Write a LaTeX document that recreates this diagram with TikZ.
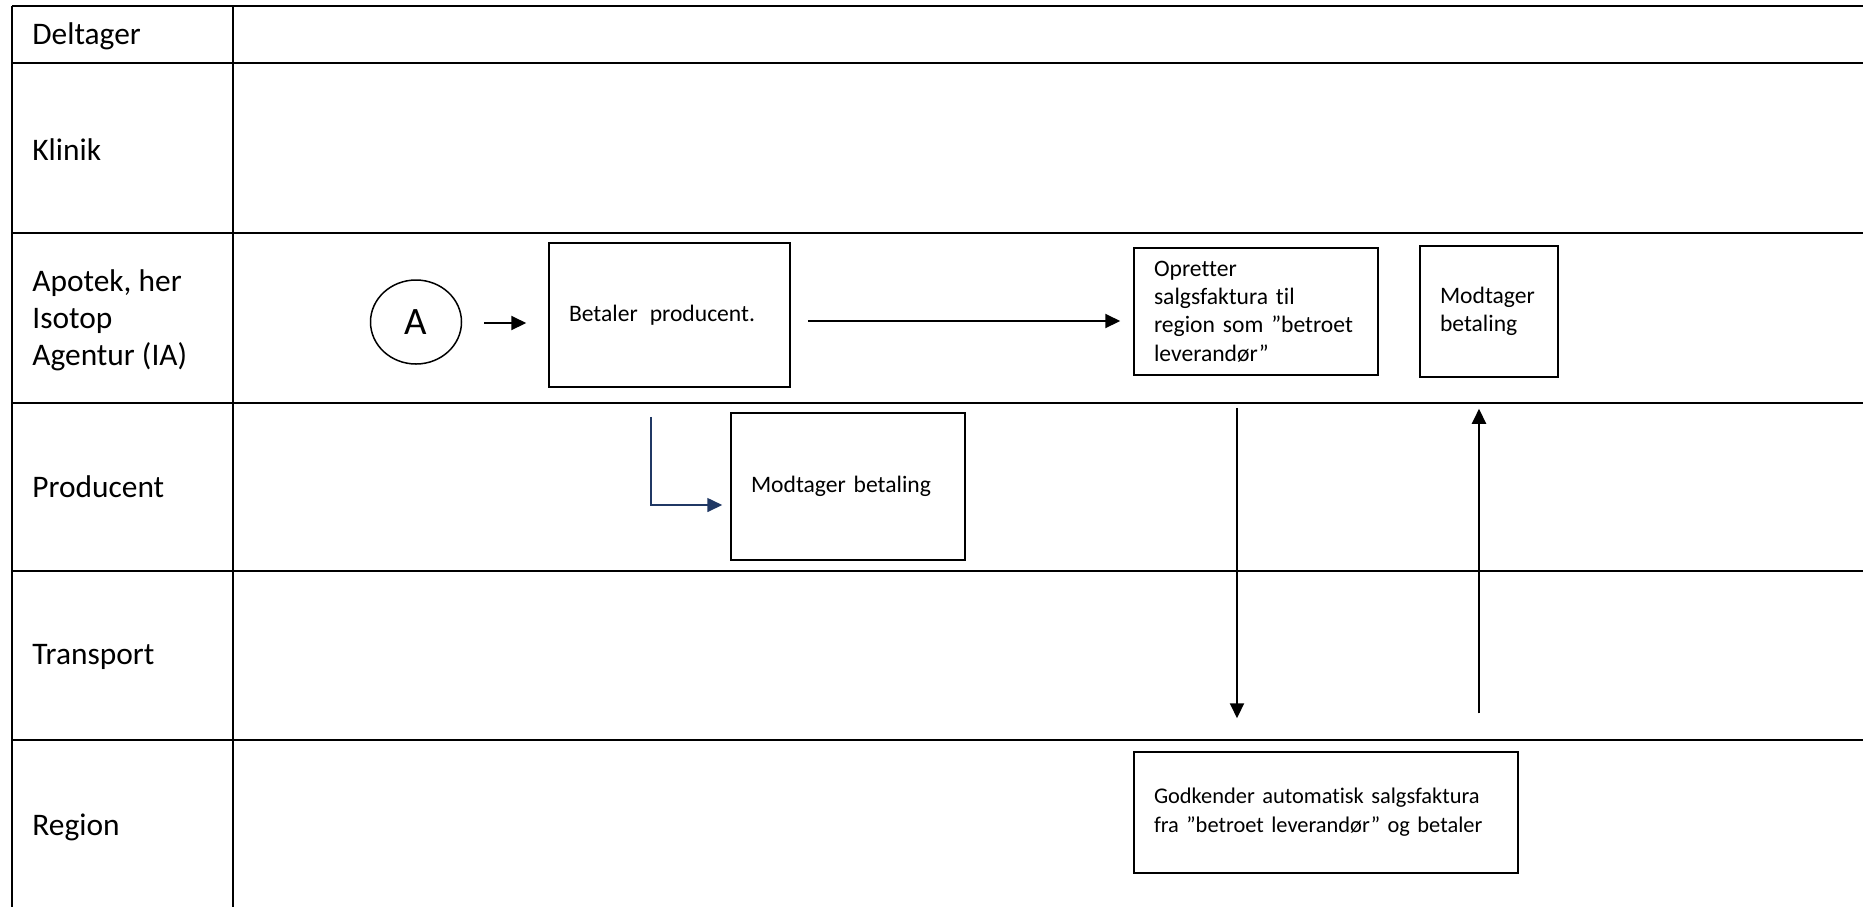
\documentclass[tikz,border=0pt]{standalone}
\usepackage{fontspec}
\setmainfont{Carlito}[Ligatures=NoCommon]
\usetikzlibrary{arrows.meta,calc,shapes.geometric}
\definecolor{navy}{HTML}{203864}
\begin{document}
\begin{tikzpicture}[x=0.5pt,y=-0.5pt,
  lane/.style={line width=1.35pt},
  lanelabel/.style={anchor=west,inner sep=0pt,font=\fontsize{15.7}{18.5}\selectfont,align=left},
  stepbox/.style={draw,line width=0.75pt,rectangle,inner xsep=10pt,inner ysep=0pt,align=left,font=\fontsize{11.8}{14.2}\selectfont},
  arr/.style={line width=1pt,-{Triangle[length=7.5pt,width=7pt]}},
]
\useasboundingbox (0,0) rectangle (1863,907);
\fill[white] (0,0) rectangle (1863,907);

% swimlane frame
\foreach \yy in {6,63,233,403,571,740} \draw[lane] (12,\yy) -- (1863,\yy);
\draw[lane] (12,6) -- (12,907);
\draw[lane] (233,6) -- (233,907);

% lane labels
\node[lanelabel] (lDel) at (32,36) {Deltager};
\node[lanelabel] (lKli) at (32,150) {Klinik};
\node[lanelabel] (lApo) at (32,320) {Apotek, her\\Isotop\\Agentur (IA)};
\node[lanelabel] (lPro) at (32,487) {Producent};
\node[lanelabel] (lTra) at (32,657) {Transport};
\node[lanelabel] (lReg) at (32,827) {Region};

% nodes
\node[draw,ellipse,line width=0.75pt,inner sep=0pt,minimum width=45.5pt,minimum height=42pt,font=\fontsize{19.4}{22}\selectfont] (A) at (416,322) {A};
\node[stepbox,text width=100.5pt,minimum height=72pt] (bet) at (669.5,315) {Betaler\hspace{6pt}producent.};
\node[stepbox,text width=97pt,minimum height=73.5pt] (modp) at (848,486.5) {Modtager betaling};
\node[stepbox,text width=102pt,minimum height=63.5pt] (opr) at (1256,311.5) {Opretter\\salgsfaktura til\\region som ”betroet\\leverandør”};
\node[stepbox,text width=49pt,minimum height=65.5pt] (modr) at (1489,311.5) {Modtager\\betaling};
\node[stepbox,text width=172pt,minimum height=60.5pt,font=\fontsize{11.2}{14.4}\selectfont] (god) at (1326,812.5) {Godkender automatisk salgsfaktura\\fra ”betroet leverandør” og betaler};

% helper coordinates
\coordinate (r1) at (0,321);
\coordinate (r2) at (0,323);
\coordinate (xd) at (1237,0);
\coordinate (xu) at (1479,0);
\coordinate (xb) at (651,0);
\coordinate (yb) at (0,505);

% connectors
\draw[arr,shorten <=11pt,shorten >=11pt] (A.east |- r2) -- (bet.west |- r2);
\draw[arr,shorten <=8.5pt,shorten >=6.5pt] (bet.east |- r1) -- (opr.west |- r1);
\draw[arr,shorten <=16pt,shorten >=16.5pt] (opr.south -| xd) -- (god.north -| xd);
\draw[arr,shorten <=19pt,shorten >=15.5pt] (god.north -| xu) -- (modr.south -| xu);
\draw[arr,color=navy,line width=0.8pt,shorten <=14.5pt,shorten >=4pt] (bet.south -| xb) |- (modp.west |- yb);
\end{tikzpicture}
\end{document}
